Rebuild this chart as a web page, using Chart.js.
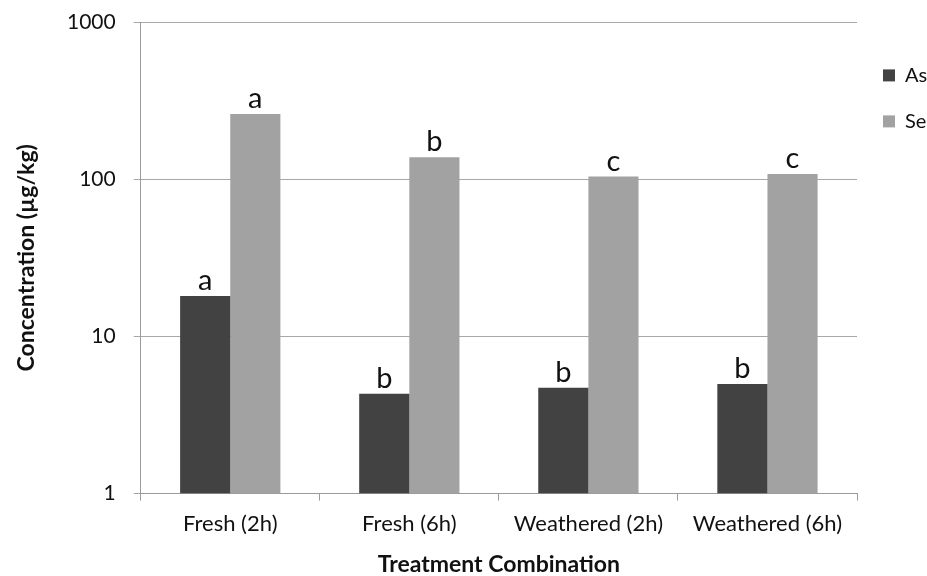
<!DOCTYPE html>
<html lang="en">
<head>
    <meta charset="UTF-8">
    <title>Treatment Combination</title>
    <script src="https://cdn.jsdelivr.net/npm/chart.js"></script>
    <style>
        html, body { margin: 0; padding: 0; background: #fff; }
        #wrap { width: 927px; height: 576px; }
    </style>
</head>
<body>
    <div id="wrap"><canvas id="chart"></canvas></div>

    <script>
        const categories = ['Fresh (2h)', 'Fresh (6h)', 'Weathered (2h)', 'Weathered (6h)'];
        const asValues = [18.1, 4.31, 4.72, 4.98];
        const seValues = [260, 138, 104, 108];
        const asLetters = ['a', 'b', 'b', 'b'];
        const seLetters = ['a', 'b', 'c', 'c'];
        const yTicks = [1, 10, 100, 1000];

        const fontName = 'Lato, "Open Sans", sans-serif';

        // letters above each bar
        const letterPlugin = {
            id: 'letters',
            afterDatasetsDraw(chart) {
                const ctx = chart.ctx;
                ctx.save();
                ctx.font = '29px ' + fontName;
                ctx.fillStyle = '#111';
                ctx.textAlign = 'center';
                ctx.textBaseline = 'alphabetic';
                chart.data.datasets.forEach((ds, i) => {
                    const meta = chart.getDatasetMeta(i);
                    meta.data.forEach((bar, j) => {
                        ctx.fillText(ds.letters[j], bar.x, bar.y - 6);
                    });
                });
                ctx.restore();
            }
        };

        const ctx = document.getElementById('chart').getContext('2d');
        new Chart(ctx, {
            type: 'bar',
            data: {
                labels: categories,
                datasets: [{
                    label: 'As',
                    data: asValues,
                    letters: asLetters,
                    backgroundColor: '#424242',
                    barPercentage: 1,
                    categoryPercentage: 0.56
                }, {
                    label: 'Se',
                    data: seValues,
                    letters: seLetters,
                    backgroundColor: '#a2a2a2',
                    barPercentage: 1,
                    categoryPercentage: 0.56
                }]
            },
            options: {
                responsive: true,
                maintainAspectRatio: false,
                animation: false,
                layout: { padding: { top: 22, right: 0, left: 15, bottom: 0 } },
                plugins: {
                    tooltip: { enabled: false },
                    legend: {
                        position: 'right',
                        align: 'start',
                        maxWidth: 70,
                        title: { display: true, text: ' ', padding: { top: 3, bottom: 0 } },
                        labels: {
                            boxWidth: 12,
                            boxHeight: 12,
                            padding: 26,
                            color: '#111',
                            font: { family: fontName, size: 20 }
                        }
                    }
                },
                scales: {
                    x: {
                        grid: {
                            offset: true,
                            drawOnChartArea: false,
                            tickLength: 7,
                            color: '#9a9a9a'
                        },
                        border: { color: '#9a9a9a' },
                        ticks: {
                            color: '#111',
                            padding: 10,
                            font: { family: fontName, size: 22 }
                        },
                        title: {
                            display: true,
                            text: 'Treatment Combination',
                            color: '#111',
                            padding: { top: 6, bottom: 0 },
                            font: { family: fontName, size: 23, weight: 'bold', lineHeight: 1.0 }
                        }
                    },
                    y: {
                        type: 'logarithmic',
                        min: 1,
                        max: 1000,
                        afterBuildTicks: scale => {
                            scale.ticks = yTicks.map(v => ({ value: v }));
                        },
                        // keep the tick padding from pushing the plot down
                        afterFit: scale => {
                            scale.paddingTop = 0;
                            scale.paddingBottom = 0;
                        },
                        grid: {
                            color: '#a8a8a8',
                            tickLength: 7
                        },
                        border: { color: '#9a9a9a' },
                        ticks: {
                            color: '#111',
                            padding: 18,
                            font: { family: fontName, size: 21 },
                            callback: v => String(v)
                        },
                        title: {
                            display: true,
                            text: 'Concentration (µg/kg)',
                            color: '#111',
                            padding: { top: 0, bottom: 11 },
                            font: { family: fontName, size: 23, weight: 'bold', lineHeight: 1.0 }
                        }
                    }
                }
            },
            plugins: [letterPlugin]
        });
    </script>
</body>
</html>
